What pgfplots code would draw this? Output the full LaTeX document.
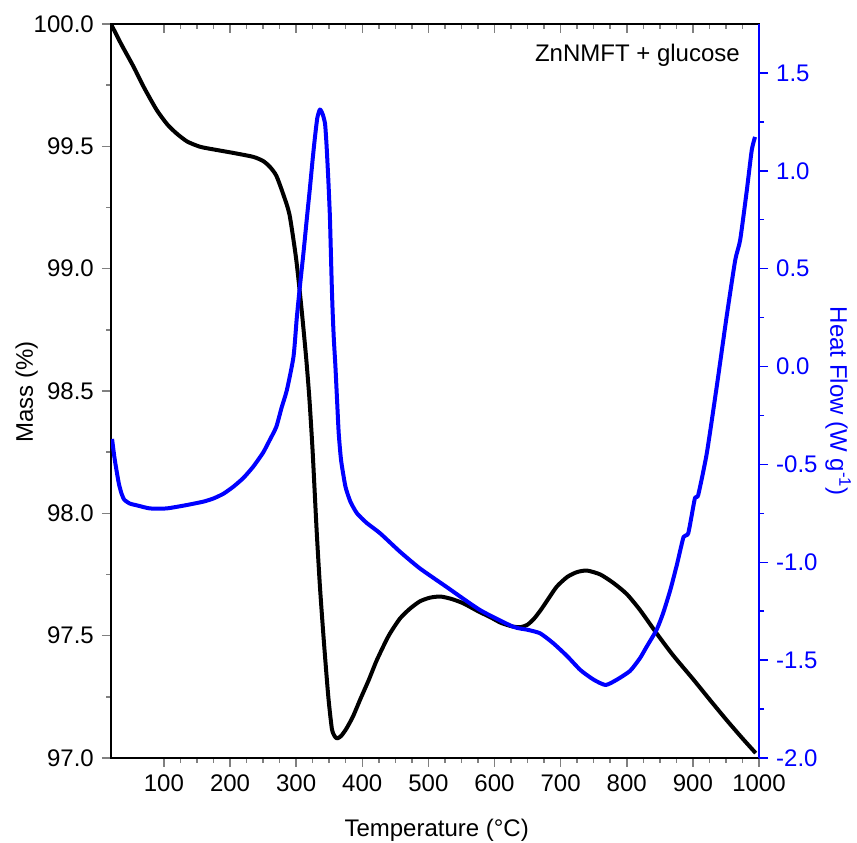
\documentclass[border=0pt]{standalone}
\usepackage{fontspec}
\setmainfont{Liberation Sans}
\usepackage{pgfplots}
\pgfplotsset{compat=1.18}
\pgfplotsset{
  major tick length=9pt, minor tick length=5pt,
  tick style={line width=1.5pt},
  /pgf/number format/assume math mode=true,
  tick label style={font=\fontsize{24}{28}\selectfont},
  label style={font=\fontsize{24}{28}\selectfont},
}
\begin{document}
\fontsize{24}{28}\selectfont
\begin{tikzpicture}[x=1pt,y=1pt]
\useasboundingbox (0,0) rectangle (857,843);
\begin{axis}[
  at={(111pt,85pt)}, anchor=south west,
  scale only axis, width=648pt, height=734pt,
  xmin=20, xmax=1000, ymin=97, ymax=100,
  xtick={100,200,...,1000}, minor x tick num=3,
  ytick={97,97.5,...,100}, minor y tick num=1,
  xtick pos=left, ytick pos=left, tick align=outside,
  axis line style={line width=1.6pt},
  yticklabel style={/pgf/number format/fixed, /pgf/number format/fixed zerofill, /pgf/number format/precision=1},
  xticklabel style={/pgf/number format/1000 sep={}},
  xlabel={Temperature (°C)},
  ylabel={Mass (\%)},
  xlabel style={at={(axis description cs:0.5026,-0.098)}, anchor=center},
  ylabel style={at={(axis description cs:-0.130,0.4986)}, anchor=center, rotate=0},
]
\addplot[black, line width=4pt, line join=round, smooth, tension=0.4] coordinates {
(20,100.00) (35,99.92) (54,99.826) (70,99.74) (89,99.649) (105,99.59) (119,99.553) (135,99.52) (155,99.498) (180,99.485) (205,99.473) (235,99.457) (250,99.44) (260,99.417) (270,99.38) (281,99.30) (290,99.22) (300,99.04) (308,98.84) (315,98.64) (320,98.47) (325,98.25) (331,97.93) (336,97.70) (341,97.51) (345,97.37) (349,97.24) (354,97.12) (358,97.09) (362,97.08) (368,97.09) (376,97.12) (386,97.17) (397,97.24) (410,97.32) (422,97.40) (440,97.50) (457,97.57) (472,97.61) (487,97.64) (502,97.655) (518,97.66) (535,97.65) (553,97.632) (575,97.60) (594,97.575) (610,97.552) (628,97.537) (640,97.535) (650,97.545) (660,97.57) (670,97.605) (680,97.645) (694,97.70) (710,97.74) (725,97.76) (740,97.766) (760,97.75) (780,97.715) (800,97.67) (820,97.605) (845,97.51) (870,97.42) (901,97.32) (925,97.24) (951,97.155) (975,97.08) (995,97.02)
};
\node[anchor=east, font=\fontsize{24}{28}\selectfont] at (axis description cs:0.983,0.958) {ZnNMFT + glucose};
\end{axis}
\begin{axis}[
  at={(111pt,85pt)}, anchor=south west,
  scale only axis, width=648pt, height=734pt,
  xmin=20, xmax=1000, ymin=-2, ymax=1.75,
  axis y line*=right, axis x line*=top,
  axis line style={-, line width=1.6pt},
  y axis line style={blue},
  xtick={100,200,...,1000}, minor x tick num=3, xticklabels={},
  xtick align=inside, ytick align=outside,
  ytick={-2,-1.5,...,1.5}, minor y tick num=1,
  ytick style={blue, line width=1.5pt},
  minor y tick style={blue},
  yticklabel style={blue, /pgf/number format/fixed, /pgf/number format/fixed zerofill, /pgf/number format/precision=1},
  ylabel={Heat Flow (W g\textsuperscript{-1})},
  ylabel style={blue, at={(axis description cs:1.122,0.486)}, anchor=center, rotate=-180},
]
\addplot[blue, line width=4pt, line join=round, smooth, tension=0.35] coordinates {
(21.6,-0.37) (25,-0.46) (28.3,-0.53) (32,-0.60) (35.8,-0.648) (40,-0.68) (48.4,-0.70) (60,-0.71) (78.8,-0.725) (104,-0.725) (134,-0.708) (160,-0.69) (175,-0.674) (190,-0.65) (205,-0.614) (220,-0.57) (235,-0.512) (250,-0.44) (260,-0.376) (270,-0.308) (278,-0.21) (286,-0.12) (296,0.05) (301,0.25) (306,0.42) (311,0.578) (316,0.75) (321,0.918) (325,1.06) (328.5,1.173) (332,1.27) (336,1.313) (340,1.29) (343.7,1.241) (346,1.13) (348.7,0.952) (351,0.77) (352.3,0.611) (354,0.40) (355.3,0.271) (357,0.14) (359.4,0.0) (362,-0.18) (364.4,-0.342) (368,-0.48) (374.6,-0.614) (382,-0.69) (392,-0.75) (407,-0.80) (427,-0.852) (457,-0.946) (487,-1.031) (527,-1.125) (578,-1.244) (628,-1.329) (650,-1.345) (669,-1.363) (689,-1.414) (710,-1.48) (730,-1.551) (750,-1.60) (768,-1.627) (785,-1.60) (805,-1.555) (820,-1.49) (830,-1.432) (845,-1.346) (855,-1.26) (866,-1.14) (876,-1.01) (886,-0.87) (893,-0.852) (903,-0.674) (908,-0.657) (921,-0.444) (936,-0.104) (951,0.254) (964,0.543) (971.5,0.646) (981.6,0.901) (989,1.105) (994,1.173)
};
\end{axis}
\end{tikzpicture}
\end{document}
